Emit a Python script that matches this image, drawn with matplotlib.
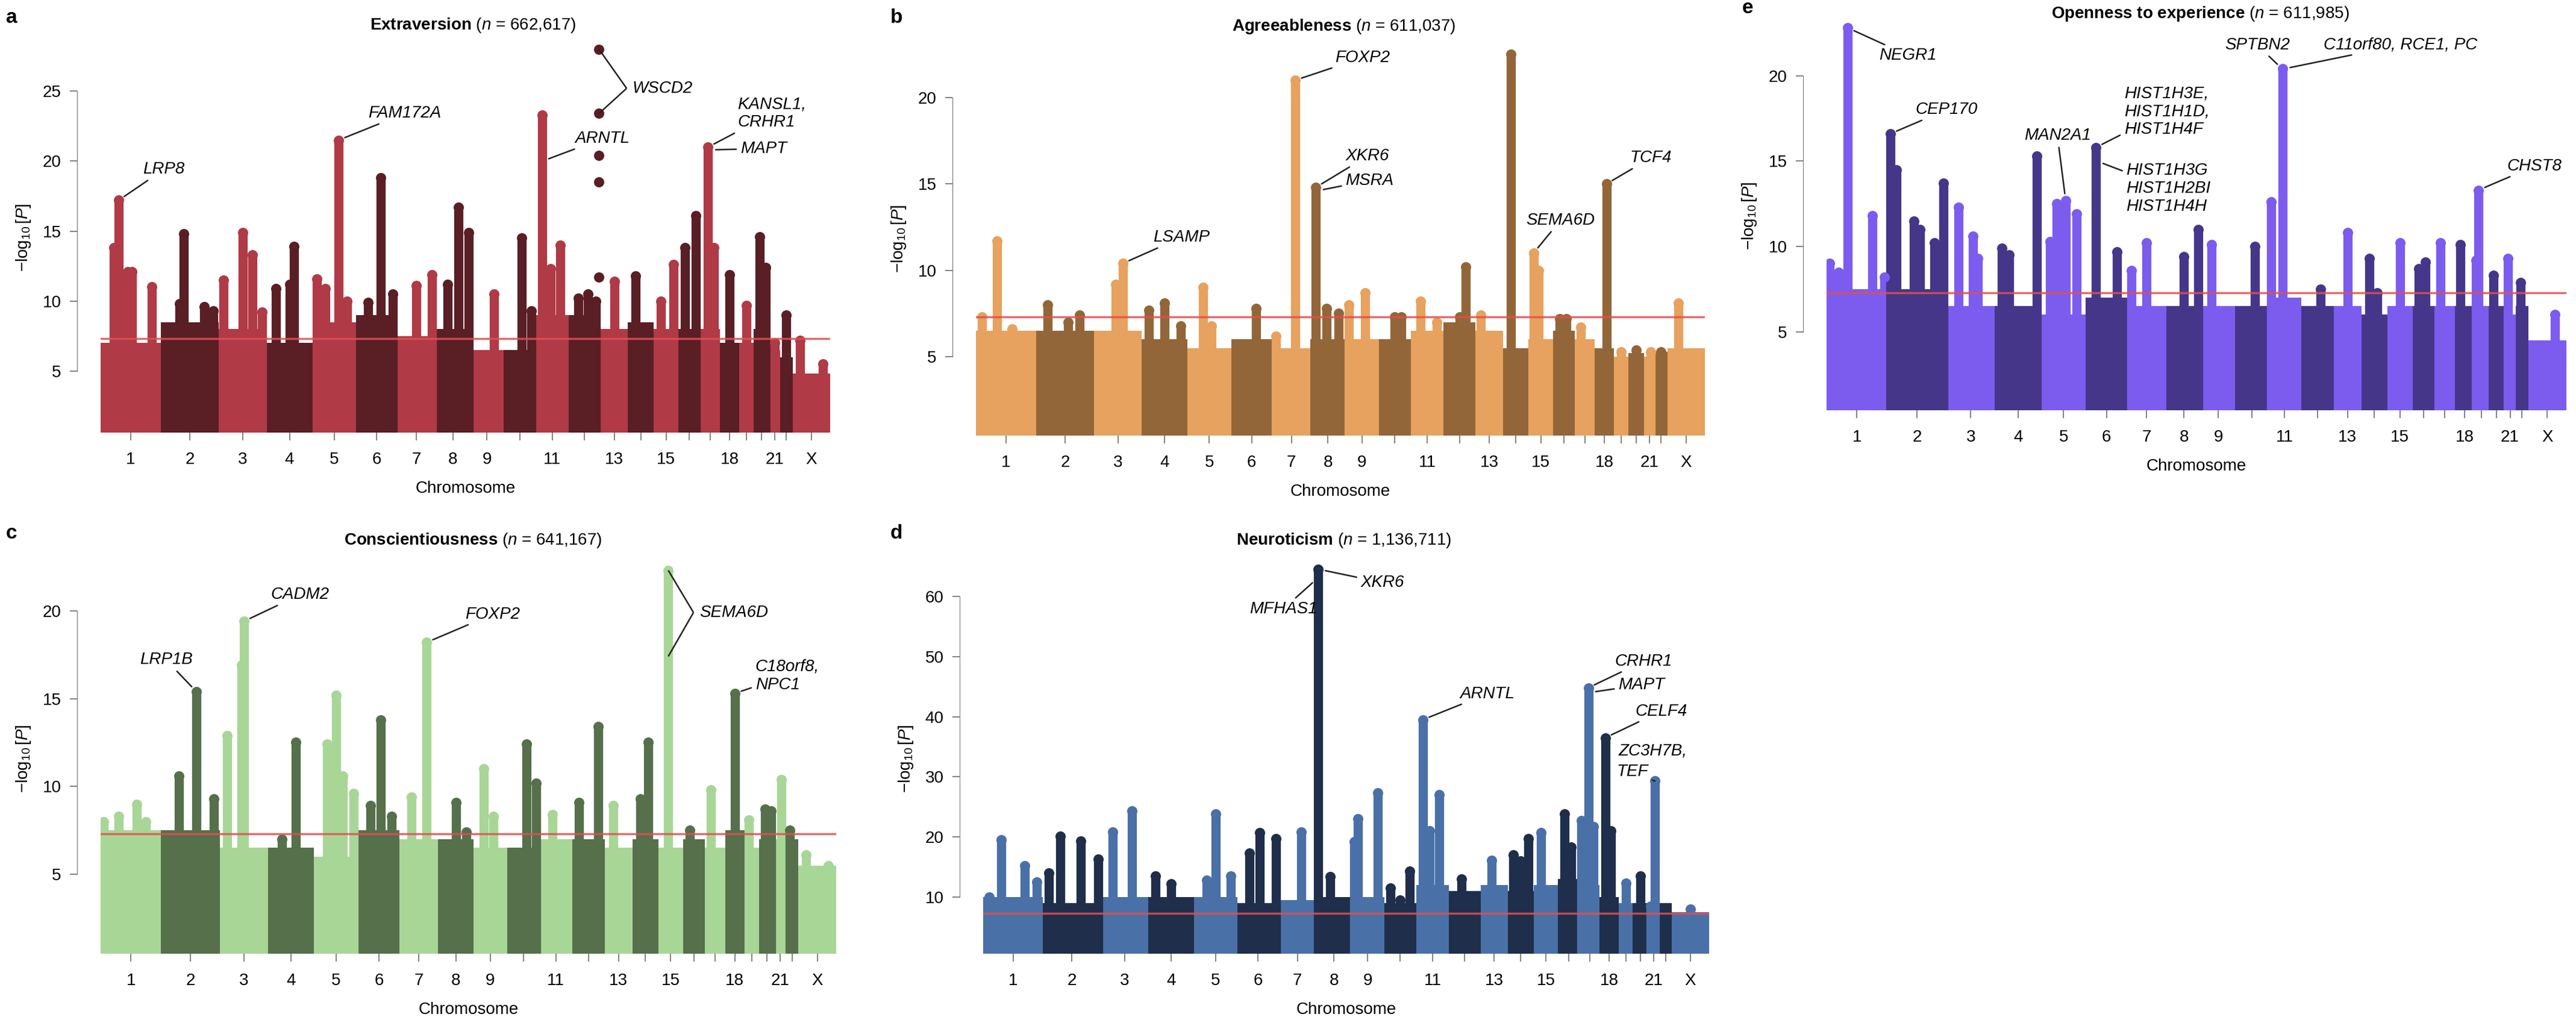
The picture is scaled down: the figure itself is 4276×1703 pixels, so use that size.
import numpy as np
import matplotlib
matplotlib.use("Agg")
import matplotlib.pyplot as plt

plt.rcParams['font.family'] = ['Liberation Sans', 'DejaVu Sans']
plt.rcParams['mathtext.fontset'] = 'custom'
plt.rcParams['mathtext.rm'] = 'Liberation Sans'
plt.rcParams['mathtext.it'] = 'Liberation Sans:italic'
plt.rcParams['mathtext.bf'] = 'Liberation Sans:bold'

CHR_NAMES = ['1','2','3','4','5','6','7','8','9','10','11','12','13','14','15','16','17','18','19','20','21','22','X']
CHR_LABELS = ['1','2','3','4','5','6','7','8','9','','11','','13','','15','','','18','','','21','','X']
CHR_LEN = [249,242,198,190,181,171,159,145,138,134,135,133,114,107,102,90,83,80,59,64,47,51,156]
GWS = 7.3

# ---- Extraversion ----
A_BASE = [7,8.5,8,7,8.5,9,7.5,8,6.5,6.5,9,9,8,8.5,8,8,8,7,7,8,6.5,6,4.8]
A_PEAKS = [(1,.3,17.2),(1,.22,13.8),(1,.45,12.1),(1,.52,12.1),(1,.85,11),(2,.4,14.8),(2,.32,9.8),(2,.75,9.6),(2,.9,9.3),
           (3,.1,11.5),(3,.5,14.9),(3,.7,13.3),(3,.9,9.2),(4,.2,10.9),(4,.6,13.9),(4,.5,11.2),(5,.1,11.6),(5,.3,10.9),
           (5,.6,21.5),(5,.8,10),(6,.6,18.8),(6,.3,9.9),(6,.9,10.5),(7,.5,11.1),(7,.9,11.9),(8,.35,11.2),(8,.65,16.7),
           (8,.95,14.9),(9,.7,10.5),(10,.55,14.5),(10,.85,9.3),(11,.2,23.3),(11,.45,12.3),(11,.75,14),(12,.3,10.2),
           (12,.6,10.5),(12,.85,10),(13,.5,11.4),(14,.3,11.8),(15,.3,10),(15,.8,12.6),(16,.3,13.8),(16,.8,16.1),
           (17,.4,21),(17,.7,13.8),(18,.5,11.9),(19,.5,9.7),(20,.4,14.6),(20,.8,12.4),(21,.5,7),(22,.5,9),('X',.2,7.2),('X',.8,5.5)]
A_DOTS = [(12,.95,28),(12,.95,23.4),(12,.95,20.4),(12,.95,18.5),(12,.95,11.7)]

# ---- Agreeableness ----
B_BASE = [6.5,6.5,6.5,6,5.5,6,5.5,6,6,6,6.5,7,6.5,5.5,6,6.5,6,5.5,5,5.2,5,5.3,5.5]
B_PEAKS = [(1,.35,11.7),(1,.1,7.3),(1,.6,6.6),(2,.2,8),(2,.75,7.4),(2,.55,7),(3,.45,9.2),(3,.6,10.4),(4,.15,7.7),
           (4,.5,8.1),(4,.85,6.8),(5,.35,9),(5,.55,6.8),(6,.6,7.8),(7,.1,6.2),(7,.6,21),(8,.15,14.8),(8,.45,7.8),
           (8,.8,7.5),(9,.1,8),(9,.6,8.7),(10,.5,7.3),(10,.7,7.3),(11,.3,8.2),(11,.8,7),(12,.7,10.2),(12,.5,7.3),
           (13,.2,7.4),(14,.3,22.5),(15,.2,11),(15,.4,10),(16,.3,7.2),(16,.6,7.2),(17,.3,6.7),(18,.6,15),(19,.5,5.3),
           (20,.5,5.4),(21,.6,5.3),(22,.5,5.3),('X',.3,8.1)]
B_DOTS = []

# ---- Openness ----
E_BASE = [7.5,7.5,6.5,6.5,6,7,6.5,6.5,6.5,6.5,7,6.5,6.5,6,6.5,6.5,6.5,6.5,6.5,6.5,6,6.5,4.5]
E_PEAKS = [(1,.05,9),(1,.2,8.5),(1,.35,22.8),(1,.75,11.8),(1,.95,8.2),(2,.05,16.6),(2,.15,14.5),(2,.45,11.5),
           (2,.55,11),(2,.8,10.2),(2,.95,13.7),(3,.25,12.3),(3,.55,10.6),(3,.65,9.3),(4,.15,9.9),(4,.3,9.5),(4,.9,15.3),
           (5,.2,10.3),(5,.35,12.5),(5,.55,12.7),(5,.8,11.9),(6,.25,15.8),(6,.75,9.7),(7,.1,8.6),(7,.5,10.2),(8,.5,9.4),
           (8,.9,11),(9,.3,10.1),(10,.6,10),(11,.1,12.6),(11,.45,20.4),(12,.6,7.5),(13,.5,10.8),(14,.3,9.3),(14,.6,7.3),
           (15,.5,10.2),(16,.3,8.7),(16,.6,9.1),(17,.3,10.2),(18,.3,10.1),(19,.3,13.3),(19,.1,9.2),(20,.3,8.3),
           (21,.3,9.3),(22,.4,7.9),('X',.7,6)]
E_DOTS = []

# ---- Conscientiousness ----
C_BASE = [7.5,7.5,6.5,6.5,6,7.5,7,7,6.5,6.5,7,7,6.5,7,6.5,7,6.5,7.5,6.5,7,7,7,5.5]
C_PEAKS = [(1,.05,8),(1,.3,8.3),(1,.6,9),(1,.75,8),(2,.3,10.6),(2,.6,15.4),(2,.9,9.3),(3,.15,12.9),(3,.5,19.4),
           (3,.45,16.9),(4,.6,12.5),(4,.3,7),(5,.3,12.4),(5,.5,15.2),(5,.65,10.6),(5,.9,9.6),(6,.3,8.9),(6,.55,13.8),
           (6,.8,8.3),(7,.3,9.4),(7,.7,18.2),(8,.5,9.1),(8,.8,7.4),(9,.3,11),(9,.6,8.3),(10,.6,12.4),(10,.9,10.2),
           (11,.4,8.4),(12,.2,9.1),(12,.8,13.4),(13,.3,8.9),(14,.3,9.3),(14,.6,12.5),(15,.4,22.3),(16,.3,7.5),
           (17,.3,9.8),(18,.5,15.3),(19,.3,8.1),(20,.4,8.7),(20,.8,8.6),(21,.6,10.4),(22,.3,7.5),('X',.2,6.1),('X',.8,5.5)]
C_DOTS = []

# ---- Neuroticism ----
D_BASE = [10,9,10,10,10,9,9.5,10,10,9,12,11,12,11,12,13,12,10,9,9,8,9,7.5]
D_PEAKS = [(1,.3,19.5),(1,.1,10),(1,.7,15.2),(1,.9,12.5),(2,.1,14),(2,.3,20.1),(2,.65,19.3),(2,.95,16.3),
           (3,.25,20.8),(3,.65,24.3),(4,.15,13.5),(4,.5,12.2),(5,.3,12.8),(5,.5,23.8),(5,.85,13.5),(6,.3,17.3),
           (6,.55,20.7),(6,.95,19.7),(7,.6,20.8),(8,.05,64.5),(8,.4,13.4),(9,.1,19.2),(9,.2,23),(9,.8,27.3),
           (10,.2,11.5),(10,.5,9.5),(10,.8,14.3),(11,.2,39.5),(11,.4,21),(11,.7,27),(12,.4,13),(13,.4,16.1),
           (14,.2,17),(14,.5,16),(14,.8,19.7),(15,.3,20.7),(16,.3,23.8),(16,.6,18.3),(17,.1,22.7),(17,.45,44.8),
           (17,.7,21.7),(18,.3,36.5),(18,.6,21),(19,.5,12.3),(20,.5,13.5),(21,.2,8.5),(21,.6,29.3),(22,.4,8),('X',.5,8)]
D_DOTS = []

starts = np.concatenate([[0], np.cumsum(CHR_LEN)[:-1]])
total = float(np.sum(CHR_LEN))
centers = starts + np.array(CHR_LEN) / 2

def gx(c, p):
    i = CHR_NAMES.index(str(c))
    return starts[i] + p * CHR_LEN[i]

W, H = 4276, 1703
fig = plt.figure(figsize=(W / 100, H / 100), dpi=100)

def ax_px(x0, x1, y0, y1):
    return fig.add_axes([x0 / W, 1 - y1 / H, (x1 - x0) / W, (y1 - y0) / H])

FS = 20

def panel(rect, base, peaks, dots, light, dark, ylim, yticks):
    ax = ax_px(*rect)
    cols = [light if i % 2 == 0 else dark for i in range(len(CHR_LEN))]
    ax.bar(starts, base, width=CHR_LEN, bottom=0, align='edge', color=cols, lw=0, zorder=1)
    for c, p, h in peaks:
        i = CHR_NAMES.index(str(c))
        x = gx(c, p)
        ax.vlines(x, 0, h, color=cols[i], lw=11, zorder=2)
        ax.scatter([x], [h], s=150, color=cols[i], lw=0, zorder=3)
    for c, p, h in dots:
        i = CHR_NAMES.index(str(c))
        ax.scatter([gx(c, p)], [h], s=150, color=cols[i], lw=0, zorder=3)
    ax.axhline(GWS, color='#e0504f', lw=2.5, alpha=0.85, zorder=4)
    ax.set_xlim(0, total)
    ax.set_ylim(*ylim)
    ax.set_yticks(yticks)
    ax.set_xticks(centers)
    ax.set_xticklabels(CHR_LABELS)
    for s in ['top', 'right', 'bottom']:
        ax.spines[s].set_visible(False)
    ax.spines['left'].set_position(('outward', 28))
    ax.spines['left'].set_bounds(yticks[0], yticks[-1])
    ax.spines['left'].set_color('#777777')
    ax.tick_params(axis='both', labelsize=FS, length=9, width=1.3, color='#777777', pad=10)
    ax.tick_params(axis='x', pad=14)
    ax.set_xlabel('Chromosome', fontsize=FS, labelpad=16)
    ax.set_ylabel(r'$-\log_{10}[\mathit{P}]$', fontsize=FS, labelpad=12)
    return ax

def ann(ax, text, c, p, h, tx, ty, ha='left', va='center'):
    ax.annotate(text, xy=(gx(c, p), h), xytext=(tx * total, ty), ha=ha, va=va, fontsize=FS, style='italic',
                arrowprops=dict(arrowstyle='-', lw=1.8, color='#222222', shrinkA=3, shrinkB=8), zorder=6)

def bracket(ax, text, pts, vx, vy):
    for c, p, h in pts:
        ax.plot([vx * total - 0.004 * total, gx(c, p)], [vy, h], color='#222222', lw=1.8, zorder=6,
                solid_capstyle='butt')
    ax.text(vx * total + 0.004 * total, vy, text, fontsize=FS, style='italic', va='center', ha='left', zorder=6)

# a
axa = panel((167, 1378, 70, 718), A_BASE, A_PEAKS, A_DOTS, '#b03a46', '#5a1e25', (0.6, 28.5), [5, 10, 15, 20, 25])
ann(axa, 'LRP8', 1, .3, 17.2, 0.058, 19.4)
ann(axa, 'FAM172A', 5, .6, 21.5, 0.367, 23.4)
bracket(axa, 'WSCD2', [(12, .95, 28), (12, .95, 23.4)], 0.725, 25.2)
ann(axa, 'ARNTL', 11, .2, 20.0, 0.65, 21.6)
ann(axa, 'KANSL1,\nCRHR1', 17, .4, 21.0, 0.873, 23.4)
ann(axa, 'MAPT', 17, .45, 20.8, 0.877, 20.9)

# b
axb = panel((1620, 2830, 70, 723), B_BASE, B_PEAKS, B_DOTS, '#e6a25e', '#936639', (0.44, 23.2), [5, 10, 15, 20])
ann(axb, 'LSAMP', 3, .6, 10.4, 0.243, 11.9)
ann(axb, 'FOXP2', 7, .6, 21, 0.493, 22.3)
ann(axb, 'XKR6', 8, .15, 14.8, 0.507, 16.6)
ann(axb, 'MSRA', 8, .18, 14.6, 0.507, 15.2)
ann(axb, 'SEMA6D', 15, .2, 11, 0.802, 12.9, ha='center')
ann(axb, 'TCF4', 18, .6, 15, 0.897, 16.5)

# e
axe = panel((3032, 4260, 35, 681), E_BASE, E_PEAKS, E_DOTS, '#7c5cee', '#463689', (0.4, 23.2), [5, 10, 15, 20])
ann(axe, 'NEGR1', 1, .35, 22.8, 0.071, 21.2)
ann(axe, 'CEP170', 2, .05, 16.6, 0.12, 18.0)
ann(axe, 'MAN2A1', 5, .55, 12.7, 0.312, 16.5, ha='center')
ann(axe, 'HIST1H3E,\nHIST1H1D,\nHIST1H4F', 6, .25, 15.8, 0.402, 17.9)
ann(axe, 'HIST1H3G\nHIST1H2BI\nHIST1H4H', 6, .27, 15.0, 0.405, 13.4)
ann(axe, 'SPTBN2', 11, .43, 20.4, 0.626, 21.8, ha='right')
ann(axe, 'C11orf80, RCE1, PC', 11, .47, 20.4, 0.672, 21.8)
ann(axe, 'CHST8', 19, .3, 13.3, 0.92, 14.7)

# c
axc = panel((167, 1388, 935, 1583), C_BASE, C_PEAKS, C_DOTS, '#a8d697', '#55704b', (0.48, 22.7), [5, 10, 15, 20])
ann(axc, 'LRP1B', 2, .6, 15.4, 0.125, 17.2, ha='right')
ann(axc, 'CADM2', 3, .5, 19.4, 0.231, 20.9)
ann(axc, 'FOXP2', 7, .7, 18.2, 0.496, 19.8)
bracket(axc, 'SEMA6D', [(15, .4, 22.3), (15, .4, 17.4)], 0.81, 19.9)
ann(axc, 'C18orf8,\nNPC1', 18, .5, 15.3, 0.89, 16.3)

# d
axd = panel((1632, 2837, 935, 1583), D_BASE, D_PEAKS, D_DOTS, '#4a70a8', '#1f2e4a', (0.6, 65.5), [10, 20, 30, 40, 50, 60])
ann(axd, 'XKR6', 8, .07, 64.5, 0.52, 62.3)
ann(axd, 'MFHAS1', 8, .03, 63.0, 0.46, 57.9, ha='right')
ann(axd, 'ARNTL', 11, .2, 39.5, 0.657, 43.8)
ann(axd, 'CRHR1', 17, .43, 44.8, 0.87, 49.2)
ann(axd, 'MAPT', 17, .47, 44.0, 0.875, 45.3)
ann(axd, 'CELF4', 18, .3, 36.5, 0.898, 40.9)
axd.text(0.875 * total, 34.3, 'ZC3H7B,', fontsize=FS, style='italic', va='center', zorder=6)
ann(axd, 'TEF', 21, .6, 29.3, 0.873, 30.8)

# titles
def title(x, y, name, n):
    fig.text(x / W, 1 - y / H, r'$\mathbf{%s}$ ($\mathit{n}$ = %s)' % (name.replace(' ', r'\ '), n),
             fontsize=FS, ha='center', va='center')

title(785, 42, 'Extraversion', '662,617')
title(2231, 44, 'Agreeableness', '611,037')
title(3652, 23, 'Openness to experience', '611,985')
title(785, 897, 'Conscientiousness', '641,167')
title(2231, 897, 'Neuroticism', '1,136,711')

for letter, x, y in [('a', 10, 30), ('b', 1478, 30), ('e', 2892, 14), ('c', 10, 885), ('d', 1478, 885)]:
    fig.text(x / W, 1 - y / H, letter, fontsize=24, fontweight='bold', ha='left', va='center')

fig.savefig('out.png', dpi=100)
